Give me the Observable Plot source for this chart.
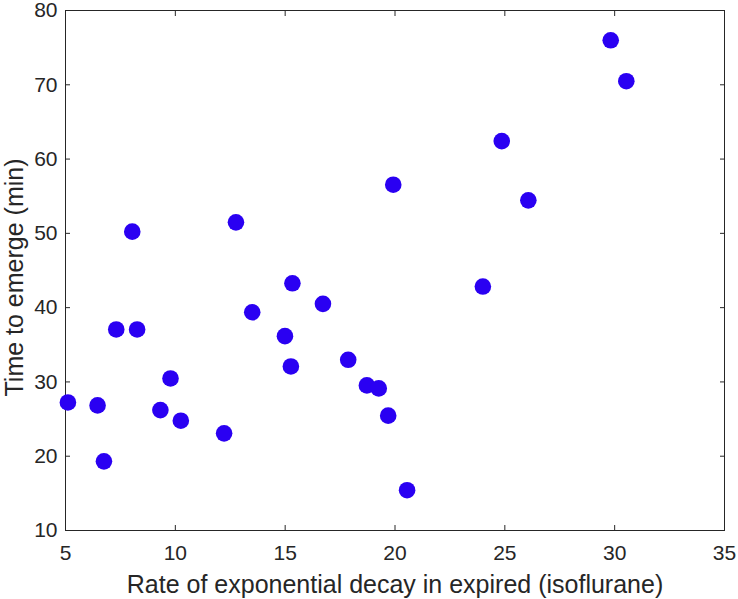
<!DOCTYPE html>
<html>
<head>
<meta charset="utf-8">
<script src="https://cdn.jsdelivr.net/npm/d3@7"></script>
<script src="https://cdn.jsdelivr.net/npm/@observablehq/plot@0.6"></script>
<style>
  html, body { margin: 0; padding: 0; background: #fff; }
  #chart svg { display: block; }
  #chart svg [aria-label="x-axis label"] text { font-size: 25px; }
</style>
</head>
<body>
<div id="chart"></div>
<script>
const decayRate = [5.11, 6.46, 6.75, 7.31, 8.04, 8.26, 9.32, 9.78, 10.25, 12.22, 12.76, 13.50, 14.99, 15.26, 15.33, 16.72, 17.87, 18.72, 19.26, 19.69, 19.92, 20.55, 24.0, 24.86, 26.07, 29.82, 30.53];
const emergeTime = [27.24, 26.84, 19.31, 37.06, 50.23, 37.06, 26.21, 30.47, 24.78, 23.08, 51.48, 39.38, 36.16, 32.08, 43.28, 40.51, 32.98, 29.53, 29.13, 25.46, 56.55, 15.42, 42.84, 62.42, 54.44, 75.99, 70.48];
const xTicks = [5, 10, 15, 20, 25, 30, 35];
const yTicks = [10, 20, 30, 40, 50, 60, 70, 80];
const xLabel = "Rate of exponential decay in expired (isoflurane)";
const yLabel = "Time to emerge (min)";

const data = decayRate.map((x, i) => ({x, y: emergeTime[i]}));
const ink = "#262626";

const chart = Plot.plot({
  width: 738,
  height: 599,
  marginLeft: 65,
  marginRight: 14,
  marginTop: 10,
  marginBottom: 69,
  style: {fontFamily: "'Liberation Sans', Arial, Helvetica, sans-serif", fontSize: "21px", color: ink, background: "#fff"},
  x: {domain: [5, 35]},
  y: {domain: [10, 80]},
  marks: [
    Plot.frame({stroke: ink, strokeWidth: 1}),
    Plot.axisX({anchor: "bottom", ticks: xTicks, tickSize: -5, tickPadding: 20, stroke: ink, fill: ink,
      label: xLabel, labelAnchor: "center", labelOffset: 62, labelArrow: "none", fontSize: 21}),
    Plot.axisX({anchor: "top", ticks: xTicks, tickSize: -5, tickFormat: () => "", label: null, stroke: ink}),
    Plot.axisY({anchor: "left", ticks: yTicks, tickSize: -5, tickPadding: 13, stroke: ink, fill: ink,
      label: null, fontSize: 21}),
    Plot.axisY({anchor: "right", ticks: yTicks, tickSize: -5, tickFormat: () => "", label: null, stroke: ink}),
    Plot.text([yLabel], {frameAnchor: "left", textAnchor: "middle", rotate: -90, dx: -51, dy: 7, fontSize: 25, fill: ink}),
    Plot.dot(data, {x: "x", y: "y", r: 8.3, fill: "#2a00f2", stroke: "none"})
  ]
});
document.getElementById("chart").appendChild(chart);
</script>
</body>
</html>
